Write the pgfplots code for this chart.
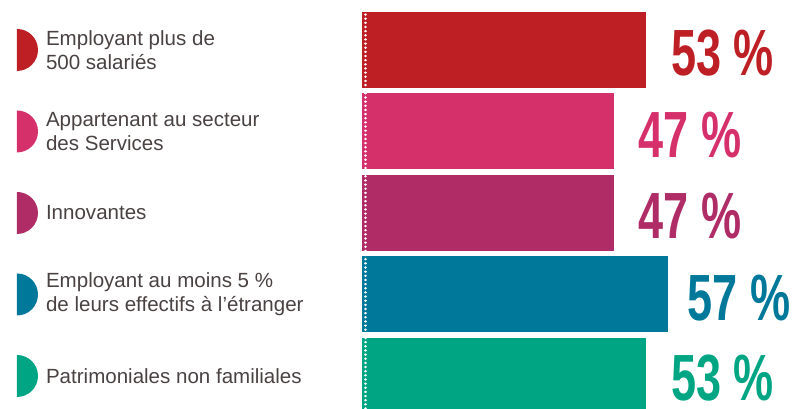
\documentclass[border=0pt]{standalone}
\usepackage{fontspec}
\setmainfont{Liberation Sans}
\usepackage{graphicx}
\usepackage{pgfplots}
\pgfplotsset{compat=1.18}
\definecolor{cA}{HTML}{BE1F25}
\definecolor{cB}{HTML}{D6306A}
\definecolor{cC}{HTML}{B02C66}
\definecolor{cD}{HTML}{00789A}
\definecolor{cE}{HTML}{00A684}
\definecolor{txt}{HTML}{4A4242}
\pgfdeclareplotmark{halfdisc}{%
  \pgfpathmoveto{\pgfqpoint{0pt}{\pgfplotmarksize}}%
  \pgfpatharc{90}{-90}{\pgfplotmarksize}%
  \pgfpathclose\pgfusepathqfill}
\pgfplotsset{hd/.style={sharp plot, only marks, mark=halfdisc, mark size=15.75pt, mark options={fill=#1, draw=none}, nodes near coords={}}}
\begin{document}
\begin{tikzpicture}
\begin{axis}[
  width=595.5pt, height=306pt, scale only axis, hide axis,
  xmin=-67.54, xmax=80.6, ymin=0.607, ymax=5.613,
  xbar, bar width=57pt, bar shift=0pt,
  /pgf/number format/assume math mode=true,
  nodes near coords={\scalebox{0.69}[1]{\fontsize{49}{50}\selectfont\bfseries\pgfmathprintnumber{\pgfplotspointmeta} \%}},
  nodes near coords style={anchor=west, inner sep=0pt, xshift=18.5pt, yshift=-2.4pt},
  point meta=x,
]
\addplot[fill=cA, draw=none, nodes near coords style={text=cA}] coordinates {(53,5)};
\addplot[fill=cB, draw=none, nodes near coords style={text=cB}] coordinates {(47,4)};
\addplot[fill=cC, draw=none, nodes near coords style={text=cC}] coordinates {(47,3)};
\addplot[fill=cD, draw=none, nodes near coords style={text=cD, xshift=-3.8pt}] coordinates {(57,2)};
\addplot[fill=cE, draw=none, nodes near coords style={text=cE, yshift=1pt}] coordinates {(53,1)};
\addplot[sharp plot, no marks, draw=white, line width=1.9pt, line cap=round, dash pattern=on 0.01pt off 3.1pt, nodes near coords={}] coordinates {(0.62,0.55) (0.62,5.47)};
\addplot[hd=cA] coordinates {(-64.37,5)};
\addplot[hd=cB] coordinates {(-64.37,4)};
\addplot[hd=cC] coordinates {(-64.37,3)};
\addplot[hd=cD] coordinates {(-64.37,2)};
\addplot[hd=cE] coordinates {(-64.37,1)};
\tikzset{lab/.style={anchor=west, align=left, text=txt, inner sep=0pt, font=\fontsize{15.4}{18}\selectfont}}
\node[lab] at (axis cs:-59.0,5) {Employant plus de\\500 salariés};
\node[lab] at (axis cs:-59.0,4) {Appartenant au secteur\\des Services};
\node[lab] at (axis cs:-59.0,3) {Innovantes};
\node[lab] at (axis cs:-59.0,2) {Employant au moins 5 \%\\de leurs effectifs à l’étranger};
\node[lab] at (axis cs:-59.0,1) {Patrimoniales non familiales};
\coordinate (bl) at (rel axis cs:0,0);
\coordinate (tr) at (rel axis cs:1,1);
\end{axis}
\pgfresetboundingbox
\path[use as bounding box] (bl) rectangle (tr);
\end{tikzpicture}
\end{document}
